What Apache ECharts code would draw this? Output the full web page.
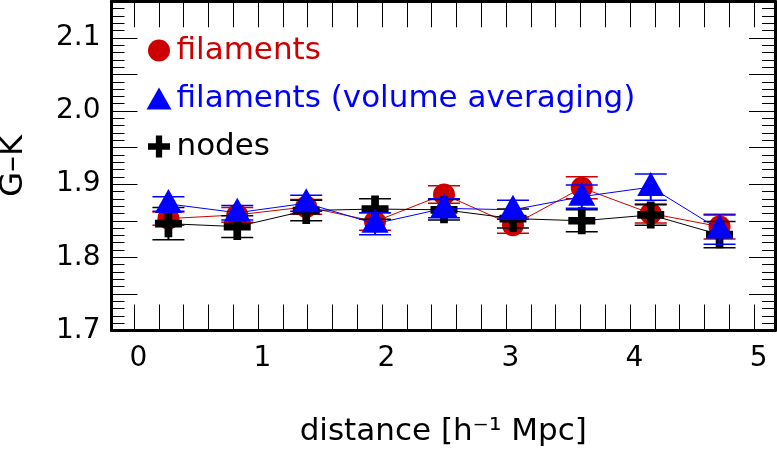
<!DOCTYPE html>
<html>
<head>
<meta charset="utf-8">
<script src="https://cdn.jsdelivr.net/npm/echarts@6/dist/echarts.min.js"></script>
<style>
  html, body { margin: 0; padding: 0; background: #fff; }
  #chart { width: 777px; height: 450px; }
</style>
</head>
<body>
<div id="chart"></div>
<script>
// bin centres along distance
const distance = [0.278, 0.833, 1.389, 1.944, 2.5, 3.056, 3.611, 4.167, 4.722];

// filaments (red circles)
const filaments = [1.853, 1.858, 1.869, 1.849, 1.886, 1.844, 1.895, 1.860, 1.842];
const filamentsErr = [0.009, 0.010, 0.010, 0.012, 0.012, 0.011, 0.015, 0.013, 0.017];

// filaments, volume averaging (blue triangles)
const filamentsVol = [1.873, 1.861, 1.874, 1.846, 1.867, 1.865, 1.883, 1.896, 1.838];
const filamentsVolErr = [0.010, 0.010, 0.011, 0.015, 0.013, 0.013, 0.016, 0.018, 0.020];

// nodes (black crosses)
const nodes = [1.846, 1.842, 1.864, 1.866, 1.865, 1.853, 1.850, 1.858, 1.831];
const nodesErr = [0.022, 0.015, 0.014, 0.014, 0.014, 0.013, 0.015, 0.014, 0.018];

// x ticks and labels
const xTicks = [0, 0.2, 0.4, 0.6, 0.8, 1, 1.2, 1.4, 1.6, 1.8, 2, 2.2, 2.4, 2.6, 2.8,
                3, 3.2, 3.4, 3.6, 3.8, 4, 4.2, 4.4, 4.6, 4.8, 5];
const xLabels = [0, 1, 2, 3, 4, 5];

const FONT = 'DejaVu Sans';
const RED = '#cc0000', BLUE = '#0000ff', BLACK = '#000000';
const CROSS = 'path://M10,0 H18 V10 H28 V18 H18 V28 H10 V18 H0 V10 H10 Z';

const chart = echarts.init(document.getElementById('chart'));

function errorBars(color) {
    return function (params, api) {
        const x = api.value(0), y = api.value(1), e = api.value(2);
        const top = api.coord([x, y + e]);
        const bot = api.coord([x, y - e]);
        const hw = 16;
        const st = { stroke: color, lineWidth: 1.5 };
        return {
            type: 'group',
            children: [
                { type: 'line', shape: { x1: top[0], y1: top[1], x2: bot[0], y2: bot[1] }, style: { stroke: color, lineWidth: 2 } },
                { type: 'line', shape: { x1: top[0] - hw, y1: top[1], x2: top[0] + hw, y2: top[1] }, style: st },
                { type: 'line', shape: { x1: bot[0] - hw, y1: bot[1], x2: bot[0] + hw, y2: bot[1] }, style: st }
            ]
        };
    };
}

const pts = (ys, errs) => distance.map((x, i) => [x, ys[i], errs[i]]);
const line = (ys) => distance.map((x, i) => [x, ys[i]]);

const xCommon = {
    type: 'value',
    min: -0.181,
    max: 5.169,
    splitLine: { show: false },
    axisLine: { onZero: false, lineStyle: { color: BLACK, width: 3 } },
    axisTick: { inside: true, length: 26, customValues: xTicks, lineStyle: { color: BLACK, width: 1 } }
};
const yCommon = {
    type: 'value',
    min: 1.7,
    max: 2.15,
    interval: 0.05,
    splitLine: { show: false },
    axisLine: { onZero: false, lineStyle: { color: BLACK, width: 3 } },
    axisTick: { inside: true, length: 26, lineStyle: { color: BLACK, width: 1 } },
    minorTick: { show: true, splitNumber: 5, length: 13, lineStyle: { color: BLACK, width: 1 } },
    minorSplitLine: { show: false }
};

const option = {
    backgroundColor: '#fff',
    animation: false,
    grid: { left: 111.5, right: 2, top: 1.3, bottom: 119.5, containLabel: false, outerBoundsMode: 'none' },
    legend: {
        orient: 'vertical',
        left: 146.5,
        top: 35,
        padding: 0,
        itemWidth: 25,
        itemHeight: 22,
        itemGap: 17,
        textStyle: { fontFamily: FONT, fontSize: 31 },
        data: [
            { name: 'filaments', icon: 'circle', textStyle: { color: RED } },
            { name: 'filaments (volume averaging)', icon: 'triangle', textStyle: { color: BLUE } },
            { name: 'nodes', icon: CROSS, textStyle: { color: BLACK } }
        ]
    },
    xAxis: [
        Object.assign({}, xCommon, {
            position: 'bottom',
            name: 'distance [h\u207B\u00B9 Mpc]',
            nameLocation: 'middle',
            nameGap: 86,
            nameTextStyle: { fontFamily: FONT, fontSize: 31, color: BLACK },
            axisLabel: {
                customValues: xLabels,
                margin: 14,
                fontFamily: FONT,
                fontSize: 28,
                color: BLACK,
                padding: [0, 0, 0, 9]
            }
        }),
        Object.assign({}, xCommon, { position: 'top', axisLabel: { show: false } })
    ],
    yAxis: [
        Object.assign({}, yCommon, {
            position: 'left',
            name: 'G\u2013K',
            nameLocation: 'middle',
            nameGap: 82,
            nameTextStyle: { fontFamily: FONT, fontSize: 32, color: BLACK },
            axisLabel: {
                margin: 11,
                fontFamily: FONT,
                fontSize: 28,
                color: BLACK,
                formatter: function (v) {
                    return Math.abs(v * 10 - Math.round(v * 10)) < 1e-6 ? v.toFixed(1) : '';
                }
            }
        }),
        Object.assign({}, yCommon, { position: 'right', axisLabel: { show: false } })
    ],
    series: [
        {
            name: 'filaments-err', type: 'custom', z: 2,
            renderItem: errorBars(RED), data: pts(filaments, filamentsErr)
        },
        {
            name: 'filaments', type: 'line', z: 3,
            data: line(filaments),
            symbol: 'circle', symbolSize: 22,
            itemStyle: { color: RED },
            lineStyle: { color: RED, width: 1 }
        },
        {
            name: 'nodes-err', type: 'custom', z: 4,
            renderItem: errorBars(BLACK), data: pts(nodes, nodesErr)
        },
        {
            name: 'nodes', type: 'line', z: 5,
            data: line(nodes),
            symbol: CROSS, symbolSize: 27,
            itemStyle: { color: BLACK },
            lineStyle: { color: BLACK, width: 1 }
        },
        {
            name: 'filaments-vol-err', type: 'custom', z: 6,
            renderItem: errorBars(BLUE), data: pts(filamentsVol, filamentsVolErr)
        },
        {
            name: 'filaments (volume averaging)', type: 'line', z: 7,
            data: line(filamentsVol),
            symbol: 'triangle', symbolSize: [27, 24], symbolOffset: [0, -3],
            itemStyle: { color: BLUE },
            lineStyle: { color: BLUE, width: 1 }
        }
    ]
};

chart.setOption(option);
</script>
</body>
</html>
